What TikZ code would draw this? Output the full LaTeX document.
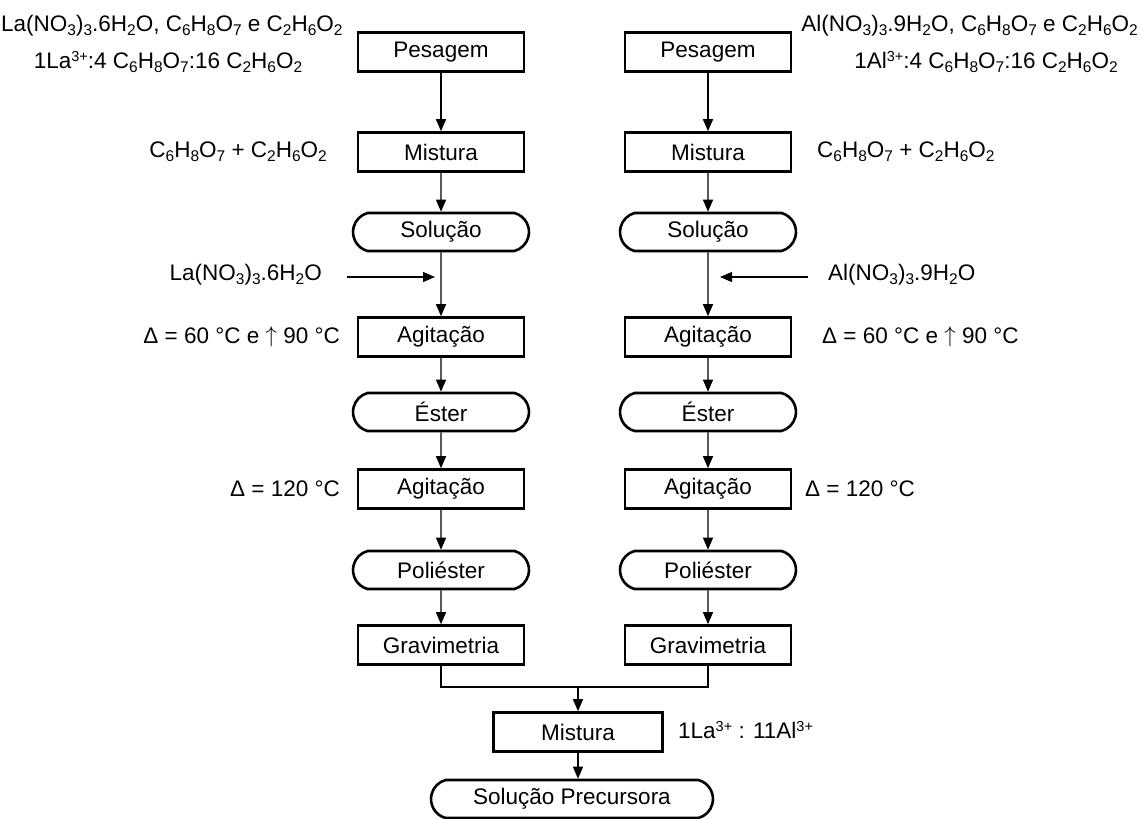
\documentclass[tikz,border=0pt]{standalone}
\usepackage{fontspec}
\setmainfont{Liberation Sans}
\usetikzlibrary{arrows.meta,shapes.misc}

% chemical sub- and superscripts
\newcommand{\lsb}[1]{\raisebox{-0.35ex}{\fontsize{15.5}{15.5}\selectfont #1}}
\newcommand{\lsp}[1]{\raisebox{0.65ex}{\fontsize{14.5}{14.5}\selectfont #1}}
\newcommand{\upar}{\raisebox{0.1ex}{\scalebox{1.1}{$\uparrow$}}}

\begin{document}
\begin{tikzpicture}[x=1pt,y=-1pt,
  font=\fontsize{22.5}{26}\selectfont,
  procbox/.style={draw, line width=2.6pt, minimum width=166pt, minimum height=39pt, inner sep=0pt},
  stadium/.style={draw, line width=2.6pt, rounded rectangle, rounded rectangle arc length=150,
                  minimum width=176pt, minimum height=38pt, inner sep=0pt},
  flow/.style={-{Triangle[length=12pt,width=10pt]}, line width=1.3pt},
  plain/.style={line width=1.3pt},
  lbl/.style={inner sep=0pt}]
\useasboundingbox (0,0) rectangle (1141,819);

% left branch: lanthanum
\node[procbox] (pL)  at (441,52)  {Pesagem};
\node[procbox] (mL)  at (441,152) {Mistura};
\node[stadium] (sL)  at (441,232) {Solução};
\node[procbox] (aL)  at (441,337) {Agitação};
\node[stadium] (eL)  at (441,412) {Éster};
\node[procbox] (bL)  at (441,489) {Agitação};
\node[stadium] (qL)  at (441,570) {Poliéster};
\node[procbox] (gL)  at (441,645) {Gravimetria};

% right branch: aluminium
\node[procbox] (pR)  at (708,52)  {Pesagem};
\node[procbox] (mR)  at (708,152) {Mistura};
\node[stadium] (sR)  at (708,232) {Solução};
\node[procbox] (aR)  at (708,337) {Agitação};
\node[stadium] (eR)  at (708,412) {Éster};
\node[procbox] (bR)  at (708,489) {Agitação};
\node[stadium] (qR)  at (708,570) {Poliéster};
\node[procbox] (gR)  at (708,645) {Gravimetria};

% final mixing
\node[procbox, minimum width=169pt] (mix) at (578,732) {Mistura};
\node[stadium, minimum width=282pt] (sp) at (572,799) {Solução Precursora};

% side labels, left
\node[lbl, anchor=west] (tL1) at (1,26) {La(NO\lsb{3})\lsb{3}.6H\lsb{2}O, C\lsb{6}H\lsb{8}O\lsb{7} e C\lsb{2}H\lsb{6}O\lsb{2}};
\node[lbl] (tL2) at (168,62) {1La\lsp{3+}:4 C\lsb{6}H\lsb{8}O\lsb{7}:16 C\lsb{2}H\lsb{6}O\lsb{2}};
\node[lbl, anchor=east] (cL) at (327,152) {C\lsb{6}H\lsb{8}O\lsb{7} + C\lsb{2}H\lsb{6}O\lsb{2}};
\node[lbl, anchor=east] (nL) at (322,275) {La(NO\lsb{3})\lsb{3}.6H\lsb{2}O};
\node[lbl, anchor=east] (dL1) at (340,337) {Δ = 60 °C e \upar\ 90 °C};
\node[lbl, anchor=east] (dL2) at (340,489) {Δ = 120 °C};

% side labels, right
\node[lbl, anchor=east] (tR1) at (1138,26) {Al(NO\lsb{3})\lsb{3}.9H\lsb{2}O, C\lsb{6}H\lsb{8}O\lsb{7} e C\lsb{2}H\lsb{6}O\lsb{2}};
\node[lbl] (tR2) at (986,62) {1Al\lsp{3+}:4 C\lsb{6}H\lsb{8}O\lsb{7}:16 C\lsb{2}H\lsb{6}O\lsb{2}};
\node[lbl, anchor=west] (cR) at (817,152) {C\lsb{6}H\lsb{8}O\lsb{7} + C\lsb{2}H\lsb{6}O\lsb{2}};
\node[lbl, anchor=west] (nR) at (828,275) {Al(NO\lsb{3})\lsb{3}.9H\lsb{2}O};
\node[lbl, anchor=west] (dR1) at (822,337) {Δ = 60 °C e \upar\ 90 °C};
\node[lbl, anchor=west] (dR2) at (805,489) {Δ = 120 °C};

\node[lbl, anchor=west] (ratio) at (678,730) {1La\lsp{3+} : 11Al\lsp{3+}};

% flow connectors
\foreach \s in {L,R}{
  \draw[flow] (p\s) -- (m\s);
  \draw[flow] (m\s) -- (s\s);
  \draw[flow] (s\s) -- (a\s);
  \draw[flow] (a\s) -- (e\s);
  \draw[flow] (e\s) -- (b\s);
  \draw[flow] (b\s) -- (q\s);
  \draw[flow] (q\s) -- (g\s);
}

% nitrate additions
\coordinate (inL) at (435,277);
\coordinate (inR) at (720,277);
\draw[flow] ([xshift=25pt]nL.east |- inL) -- (inL);
\draw[flow] ([xshift=-20pt]nR.west |- inR) -- (inR);

% joining the two branches
\coordinate (jn) at (578,687);
\draw[plain] (gL.south) |- (jn) -| (gR.south);
\draw[flow] (jn) -- (mix);
\draw[flow] (mix.south) -- (mix.south |- sp.north);
\end{tikzpicture}
\end{document}
